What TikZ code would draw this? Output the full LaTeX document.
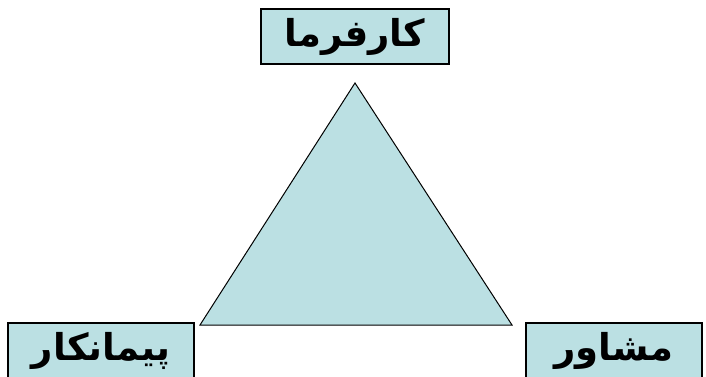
\documentclass[tikz,border=0pt]{standalone}
\usepackage{fontspec}
\usepackage{tikz}
\usetikzlibrary{positioning}
\TeXXeTstate=1
\newfontfamily\arabicfont[Script=Arabic]{DejaVu Sans}
\definecolor{triblue}{RGB}{187,224,227}

\begin{document}
\begin{tikzpicture}[x=1pt,y=1pt,
  rolebox/.style={draw=black, fill=triblue, line width=1.6pt, minimum width=186pt, minimum height=55pt, inner sep=0pt, font=\arabicfont\bfseries\fontsize{37}{40}\selectfont},
  tri/.style={draw=black, fill=triblue, line width=1pt}
]
\clip (0,0) rectangle (706,376);
\useasboundingbox (0,0) rectangle (706,376);
% triangle
\coordinate (apex) at (355,293);
\coordinate (baseL) at (200,51);
\coordinate (baseR) at (512,51);
\draw[tri] (apex) -- (baseL) -- (baseR) -- cycle;
% the three parties
\node[rolebox, minimum width=188pt] (client) at (355,339.5) {\raisebox{-2pt}{\beginR کارفرما\endR}};
\node[rolebox] (contractor) at (101,25.5) {\raisebox{-2pt}{\beginR پیمانکار\endR}};
\node[rolebox, minimum width=176pt] (consultant) at (614,25.5) {\raisebox{-2pt}{\beginR مشاور\endR}};
\end{tikzpicture}
\end{document}
